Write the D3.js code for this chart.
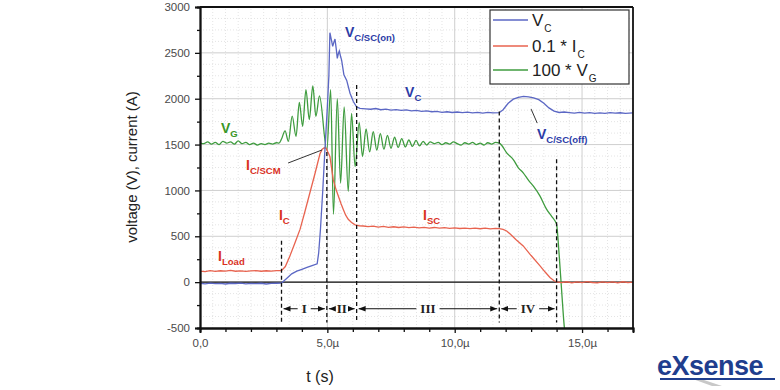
<!DOCTYPE html>
<html><head><meta charset="utf-8">
<script src="https://cdn.jsdelivr.net/npm/d3@7/dist/d3.min.js"></script>
<style>body{margin:0;background:#fff}svg{display:block}</style>
</head><body>
<svg id="chart" width="780" height="390"></svg>
<script>
// ---------- DATA (time in µs) ----------
const seriesNames = ["VC", "0.1 * IC", "100 * VG"];

const vcT = [0,0.2,0.4,0.6,0.8,1.0,1.2,1.4,1.6,1.8,2.0,2.2,2.4,2.6,2.8,3.0,3.2,3.4,3.6,3.8,4.0,4.2,4.4,4.6,4.66,4.73,4.82,4.9,5.0,5.06,5.1,5.16,5.21,5.26,5.3,5.35,5.39,5.43,5.47,5.52,5.56,5.65,5.76,5.89,6.02,6.15,6.28,6.5,6.7,6.9,7.1,7.3,7.5,7.7,7.9,8.1,8.3,8.5,8.7,8.9,9.1,9.3,9.5,9.7,9.9,10.1,10.3,10.5,10.7,10.9,11.1,11.3,11.5,11.75,11.9,12.1,12.3,12.5,12.7,12.9,13.1,13.3,13.5,13.7,13.9,14.1,14.3,14.5,14.7,14.9,15.1,15.3,15.5,15.7,15.9,16.1,16.3,16.5,16.7,17];
const vcV = [-12,-18,-10,-16,-14,-20,-12,-15,-10,-18,-14,-16,-12,-20,-14,-12,-10,40,90,120,140,160,180,200,320,580,1000,1420,1910,2250,2720,2640,2570,2620,2650,2540,2440,2490,2520,2460,2420,2260,2200,2060,1970,1910,1895,1890,1885,1893,1880,1887,1875,1882,1872,1878,1868,1872,1862,1868,1858,1862,1852,1858,1850,1855,1848,1853,1845,1850,1844,1850,1845,1848,1880,1950,1995,2015,2025,2020,2010,1990,1950,1900,1865,1850,1855,1848,1842,1850,1843,1848,1840,1846,1841,1848,1842,1847,1840,1845];

const icT = [0,0.2,0.4,0.6,0.8,1.0,1.2,1.4,1.6,1.8,2.0,2.2,2.4,2.6,2.8,3.0,3.2,3.35,3.53,3.73,3.93,4.12,4.32,4.52,4.71,4.8,4.88,4.96,5.02,5.1,5.23,5.33,5.43,5.53,5.63,5.72,5.82,5.95,6.09,6.25,6.41,6.6,6.8,7.0,7.2,7.4,7.6,7.8,8.0,8.2,8.4,8.6,8.8,9.0,9.2,9.4,9.6,9.8,10.0,10.2,10.4,10.6,10.8,11.0,11.2,11.4,11.6,11.75,11.9,12.04,12.2,12.4,12.69,13.0,13.35,13.55,13.74,13.9,14.0,14.2,14.4,14.6,14.8,15.0,15.2,15.4,15.6,15.8,16.0,16.2,16.4,16.6,16.8,17];
const icV = [120,115,125,118,124,120,128,119,123,117,122,126,119,124,121,125,125,170,286,430,578,770,980,1190,1400,1450,1465,1460,1420,1370,1120,1020,940,860,790,730,685,650,625,615,612,605,610,600,607,598,604,596,602,594,600,592,598,590,596,588,594,586,592,585,590,583,589,582,588,581,587,584,575,558,520,465,395,290,177,110,51,15,3,-5,4,-8,2,-6,5,-4,-9,3,-5,2,-7,4,-6,0];

const vgT = [0,0.15,0.3,0.45,0.6,0.75,0.9,1.05,1.2,1.35,1.5,1.65,1.8,1.95,2.1,2.25,2.4,2.55,2.7,2.85,3.0,3.1,3.2,3.34,3.47,3.62,3.77,3.9,4.03,4.16,4.29,4.43,4.55,4.69,4.98,5.13,5.24,5.39,5.52,5.66,5.82,5.95,6.09,6.25,6.38,6.52,6.66,6.8,6.94,7.08,7.22,7.36,7.5,7.64,7.78,7.92,8.06,8.2,8.34,8.48,8.62,8.76,8.9,9.04,9.2,9.35,9.5,9.65,9.8,9.95,10.1,10.25,10.4,10.55,10.7,10.85,11.0,11.15,11.3,11.45,11.6,11.75,11.85,12.04,12.3,12.5,12.69,12.9,13.09,13.35,13.61,13.8,13.94,14.0,14.1,14.2,14.3,14.36];
const vgV = [1520,1510,1530,1505,1525,1500,1535,1515,1530,1505,1540,1510,1525,1500,1515,1495,1510,1500,1515,1505,1520,1515,1560,1650,1536,1810,1590,1960,1700,2100,1772,2140,1808,2030,1440,2100,740,2000,1080,1910,990,1840,1260,1740,1370,1670,1420,1640,1440,1620,1450,1600,1460,1580,1470,1565,1475,1550,1480,1545,1485,1535,1495,1530,1510,1525,1500,1520,1505,1530,1510,1495,1520,1505,1525,1500,1515,1495,1520,1505,1525,1515,1490,1410,1337,1247,1192,1110,1047,938,793,720,666,630,300,-100,-480,-620];

// phase markers
const phaseT   = [3.2, 4.98, 6.15, 11.75, 14.0];
const phaseTop = [450, 1420, 2150, 1860, 1340];
const phaseLabels = ["I", "II", "III", "IV"];

// axis ticks
const yMajor = [-500,0,500,1000,1500,2000,2500,3000];
const yMinor = [-250,250,750,1250,1750,2250,2750];
const xMajor = [0,5,10,15];
const xMajorLabels = ["0,0","5,0µ","10,0µ","15,0µ"];
const xMinor = [1,2,3,4,6,7,8,9,11,12,13,14,16,17];

// ---------- DRAW ----------
const colors = {vc:"#5b67c4", ic:"#e8634f", vg:"#3f9c3f"};
const txt = {vc:"#2b3ba6", ic:"#d9321f", vg:"#3a9625"};
const svg = d3.select("#chart");
const x = d3.scaleLinear().domain([0,17]).range([200,633]);
const y = d3.scaleLinear().domain([-500,3000]).range([328,7]);

// grids
const g = svg.append("g");
g.selectAll(".mgx").data(xMinor.concat([0.5,1.5,2.5,3.5,4.5,5.5,6.5,7.5,8.5,9.5,10.5,11.5,12.5,13.5,14.5,15.5,16.5])).enter().append("line")
  .attr("x1",d=>x(d)).attr("x2",d=>x(d)).attr("y1",y(-500)).attr("y2",y(3000))
  .attr("stroke","#e4e4e4").attr("stroke-width",1).attr("stroke-dasharray","1,2");
g.selectAll(".mgy").data(yMinor.concat([-375,-125,125,375,625,875,1125,1375,1625,1875,2125,2375,2625,2875])).enter().append("line")
  .attr("x1",x(0)).attr("x2",x(17)).attr("y1",d=>y(d)).attr("y2",d=>y(d))
  .attr("stroke","#e4e4e4").attr("stroke-width",1).attr("stroke-dasharray","1,2");
g.selectAll(".gx").data(xMajor.slice(1)).enter().append("line")
  .attr("x1",d=>x(d)).attr("x2",d=>x(d)).attr("y1",y(-500)).attr("y2",y(3000))
  .attr("stroke","#cfcfcf").attr("stroke-width",1);
g.selectAll(".gy").data(yMajor.slice(1,-1)).enter().append("line")
  .attr("x1",x(0)).attr("x2",x(17)).attr("y1",d=>y(d)).attr("y2",d=>y(d))
  .attr("stroke","#cfcfcf").attr("stroke-width",1);

// zero line
svg.append("line").attr("x1",x(0)).attr("x2",x(17)).attr("y1",y(0)).attr("y2",y(0))
  .attr("stroke","#111").attr("stroke-width",1.3);

// clip
svg.append("clipPath").attr("id","clip").append("rect")
  .attr("x",x(0)).attr("y",y(3000)).attr("width",x(17)-x(0)).attr("height",y(-500)-y(3000));

const line = d3.line().x(d=>x(d[0])).y(d=>y(d[1]));
const smooth = d3.line().x(d=>x(d[0])).y(d=>y(d[1])).curve(d3.curveMonotoneX);
const zip = (a,b)=>a.map((t,i)=>[t,b[i]]);
const plot = svg.append("g").attr("clip-path","url(#clip)");
plot.append("path").datum(zip(vgT,vgV)).attr("d",smooth).attr("fill","none").attr("stroke",colors.vg).attr("stroke-width",1.3);
plot.append("path").datum(zip(icT,icV)).attr("d",line).attr("fill","none").attr("stroke",colors.ic).attr("stroke-width",1.3);
plot.append("path").datum(zip(vcT,vcV)).attr("d",line).attr("fill","none").attr("stroke",colors.vc).attr("stroke-width",1.3);

// phase dashed lines
svg.selectAll(".ph").data(phaseT).enter().append("line")
  .attr("x1",d=>x(d)).attr("x2",d=>x(d)).attr("y1",(d,i)=>y(phaseTop[i])).attr("y2",y(-440))
  .attr("stroke","#111").attr("stroke-width",1.3).attr("stroke-dasharray","4,3");

// phase arrows
const defs = svg.append("defs");
defs.append("marker").attr("id","ah").attr("viewBox","0 0 10 10").attr("refX",10).attr("refY",5)
  .attr("markerWidth",7).attr("markerHeight",7).attr("orient","auto-start-reverse")
  .append("path").attr("d","M0,1 L10,5 L0,9 Z").attr("fill","#111");
const ay = y(-290);
phaseLabels.forEach((lab,i)=>{
  const x0 = x(phaseT[i])+2, x1 = x(phaseT[i+1])-2, xc=(x0+x1)/2;
  const t = svg.append("text").attr("x",xc).attr("y",ay+4.5).attr("text-anchor","middle")
    .attr("font-family","Liberation Serif, Times New Roman, serif").attr("font-weight","bold")
    .attr("font-size",13).attr("fill","#222").text(lab);
  const w = t.node().getComputedTextLength()/2 + 4;
  svg.append("line").attr("x1",xc-w).attr("x2",x0).attr("y1",ay).attr("y2",ay)
    .attr("stroke","#111").attr("stroke-width",1).attr("marker-end","url(#ah)");
  svg.append("line").attr("x1",xc+w).attr("x2",x1).attr("y1",ay).attr("y2",ay)
    .attr("stroke","#111").attr("stroke-width",1).attr("marker-end","url(#ah)");
});

// axes
const yFmt = d => String(d);
const yAx = svg.append("g").attr("transform",`translate(${x(0)},0)`)
  .call(d3.axisLeft(y).tickValues(yMajor).tickSize(5).tickPadding(5).tickFormat(yFmt));
const yAxm = svg.append("g").attr("transform",`translate(${x(0)},0)`)
  .call(d3.axisLeft(y).tickValues(yMinor).tickSize(3).tickFormat(""));
const xAx = svg.append("g").attr("transform",`translate(0,${y(-500)})`)
  .call(d3.axisBottom(x).tickValues(xMajor).tickSize(5).tickPadding(6).tickFormat((d,i)=>xMajorLabels[i]));
const xAxm = svg.append("g").attr("transform",`translate(0,${y(-500)})`)
  .call(d3.axisBottom(x).tickValues(xMinor).tickSize(4).tickFormat(""));
[yAx,yAxm,xAx,xAxm].forEach(a=>{
  a.select(".domain").attr("stroke","#111").attr("stroke-width",1.8);
  a.selectAll(".tick line").attr("stroke","#111").attr("stroke-width",1.3);
  a.selectAll("text").attr("font-family","Liberation Sans, Arial, sans-serif").attr("font-size",11.5).attr("fill","#4a4a4a");
});
// frame top/right
svg.append("line").attr("x1",x(0)).attr("x2",x(17)).attr("y1",y(3000)).attr("y2",y(3000)).attr("stroke","#111").attr("stroke-width",1.8);
svg.append("line").attr("x1",x(17)).attr("x2",x(17)).attr("y1",y(3000)).attr("y2",y(-500)).attr("stroke","#111").attr("stroke-width",1.8);

// axis titles
svg.append("text").attr("x",320).attr("y",382).attr("text-anchor","middle")
  .attr("font-family","Liberation Sans, Arial, sans-serif").attr("font-size",16).attr("fill","#222").text("t (s)");
svg.append("text").attr("transform","translate(137,167) rotate(-90)").attr("text-anchor","middle")
  .attr("font-family","Liberation Sans, Arial, sans-serif").attr("font-size",15).attr("fill","#222").text("voltage (V), current (A)");

// annotations
function sublabel(tx, vy, main, sub, color, size=14){
  const t = svg.append("text").attr("x",x(tx)).attr("y",y(vy))
    .attr("font-family","Liberation Sans, Arial, sans-serif").attr("font-weight","bold")
    .attr("font-size",size).attr("fill",color);
  t.append("tspan").text(main);
  t.append("tspan").attr("dy",4).attr("font-size",size*0.68).text(sub);
}
sublabel(5.69, 2673, "V", "C/SC(on)", txt.vc);
sublabel(8.05, 2019, "V", "C", txt.vc);
sublabel(13.23, 1561, "V", "C/SC(off)", txt.vc);
sublabel(0.82, 1626, "V", "G", txt.vg);
sublabel(1.81, 1223, "I", "C/SCM", txt.ic);
sublabel(3.1, 678, "I", "C", txt.ic);
sublabel(8.76, 678, "I", "SC", txt.ic);
sublabel(0.71, 230, "I", "Load", txt.ic);
svg.append("line").attr("x1",x(13.0)).attr("y1",y(1887)).attr("x2",x(13.24)).attr("y2",y(1734)).attr("stroke","#333").attr("stroke-width",1);
svg.append("line").attr("x1",x(3.46)).attr("y1",y(1299)).attr("x2",x(4.79)).attr("y2",y(1441)).attr("stroke","#333").attr("stroke-width",1);

// legend
const lg = svg.append("g");
lg.append("rect").attr("x",490).attr("y",10).attr("width",139).attr("height",74).attr("fill","#fff").attr("stroke","#333").attr("stroke-width",1.2);
const legItems = [
  {main:"V", sub:"C", color:colors.vc},
  {main:"0.1 * I", sub:"C", color:colors.ic},
  {main:"100 * V", sub:"G", color:colors.vg}
];
legItems.forEach((d,i)=>{
  const cy = [20,46,70][i];
  lg.append("line").attr("x1",493).attr("x2",528).attr("y1",cy).attr("y2",cy).attr("stroke",d.color).attr("stroke-width",1.3);
  const t = lg.append("text").attr("x",532).attr("y",cy+6).attr("font-family","Liberation Sans, Arial, sans-serif")
    .attr("font-size",17).attr("fill","#222");
  t.append("tspan").text(d.main);
  t.append("tspan").attr("dy",6).attr("font-size",10).attr("dx",1).text(d.sub);
});

// logo
const logo = svg.append("g");
logo.append("path").attr("d","M690,378 L712,386 L722,386 L698,378 Z").attr("fill","#c8c8c8");
logo.append("text").attr("x",657).attr("y",375).attr("font-family","Liberation Sans, Arial, sans-serif")
  .attr("font-weight","bold").attr("font-size",27).attr("fill","#1f3e8e").attr("letter-spacing",-0.5)
  .text("eXsense");
logo.append("line").attr("x1",660).attr("x2",775).attr("y1",379).attr("y2",379).attr("stroke","#1f3e8e").attr("stroke-width",2);
</script>
</body></html>
